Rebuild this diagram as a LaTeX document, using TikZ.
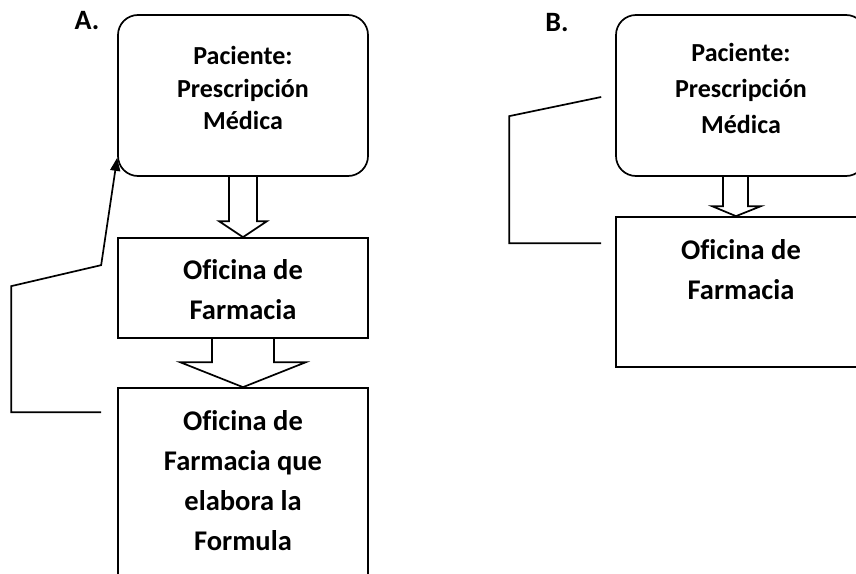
\documentclass[tikz,border=0pt]{standalone}
\usepackage{fontspec}
\setmainfont[Ligatures=NoCommon]{Carlito}
\usetikzlibrary{arrows.meta}

\begin{document}
\begin{tikzpicture}[
      x = 1pt, y = -1pt,
      line width = 1.7pt,
      rbox/.style = {
        draw, rounded corners = 20pt, inner sep = 0pt,
        minimum width = 250pt, minimum height = 161pt},
      sbox/.style = {
        draw, inner sep = 0pt, minimum width = 250pt},
      head/.style = {
        align = center, font = \bfseries\fontsize{26}{32.5}\selectfont},
      body/.style = {
        align = center, font = \bfseries\fontsize{28.5}{40}\selectfont},
      tag/.style = {font = \bfseries\fontsize{28}{30}\selectfont}
      ]
    \useasboundingbox (0,0) rectangle (856,573);
    % panel A
    \node[tag] (tagA) at (87,21) {A.};
    \node[rbox] (pA) at (243,95.5) {}; % 0
    \node[sbox, minimum height = 100pt] (fA) at (243,288) {}; % 1
    \node[sbox, minimum height = 212pt] (eA) at (243,494) {}; % 2
    \node[head] (pAt) at (243,88) {Paciente:\\Prescripción\\Médica};
    \node[body] (fAt) at (243,290) {Oficina de\\Farmacia};
    \node[body] (eAt) at (243,481) {Oficina de\\Farmacia que\\elabora la\\Formula};
    \draw ([xshift=-14pt]pA.south) -- ([xshift=-14pt,yshift=16pt]fA.north)
      -- ([xshift=-24pt,yshift=16pt]fA.north) -- (fA.north)
      -- ([xshift=24pt,yshift=16pt]fA.north) -- ([xshift=14pt,yshift=16pt]fA.north)
      -- ([xshift=14pt]pA.south);
    \draw ([xshift=-31pt]fA.south) -- ([xshift=-31pt,yshift=25pt]eA.north)
      -- ([xshift=-63pt,yshift=25pt]eA.north) -- (eA.north)
      -- ([xshift=63pt,yshift=25pt]eA.north) -- ([xshift=31pt,yshift=25pt]eA.north)
      -- ([xshift=31pt]fA.south);
    \draw[-{Triangle[length=13pt,width=10pt]}]
      ([xshift=-16pt,yshift=-25pt]eA.north west) -- ++(-90,0) -- ++(0,-126)
      -- ++(90,-21) -- ([yshift=19pt]pA.south west);
    % panel B
    \node[tag] (tagB) at (557,23) {B.};
    \node[rbox] (pB) at (741,95.5) {}; % 3
    \node[sbox, minimum height = 150pt] (fB) at (741,292) {}; % 4
    \node[head, font = \bfseries\fontsize{26}{36}\selectfont] (pBt) at (741,88.5)
      {Paciente:\\Prescripción\\Médica};
    \node[body] (fBt) at (741,270) {Oficina de\\Farmacia};
    \draw ([xshift=-18pt]pB.south) -- ([xshift=-18pt,yshift=10pt]fB.north)
      -- ([xshift=-29pt,yshift=10pt]fB.north) -- ([xshift=-5pt]fB.north)
      -- ([xshift=20pt,yshift=10pt]fB.north) -- ([xshift=7pt,yshift=10pt]fB.north)
      -- ([xshift=7pt]pB.south);
    \draw ([xshift=-14pt,yshift=-27pt]fB.north west) -- ++(-92,0) -- ++(0,-127)
      -- ([xshift=-14pt,yshift=-1.5pt]pB.west);
  \end{tikzpicture}
\end{document}
